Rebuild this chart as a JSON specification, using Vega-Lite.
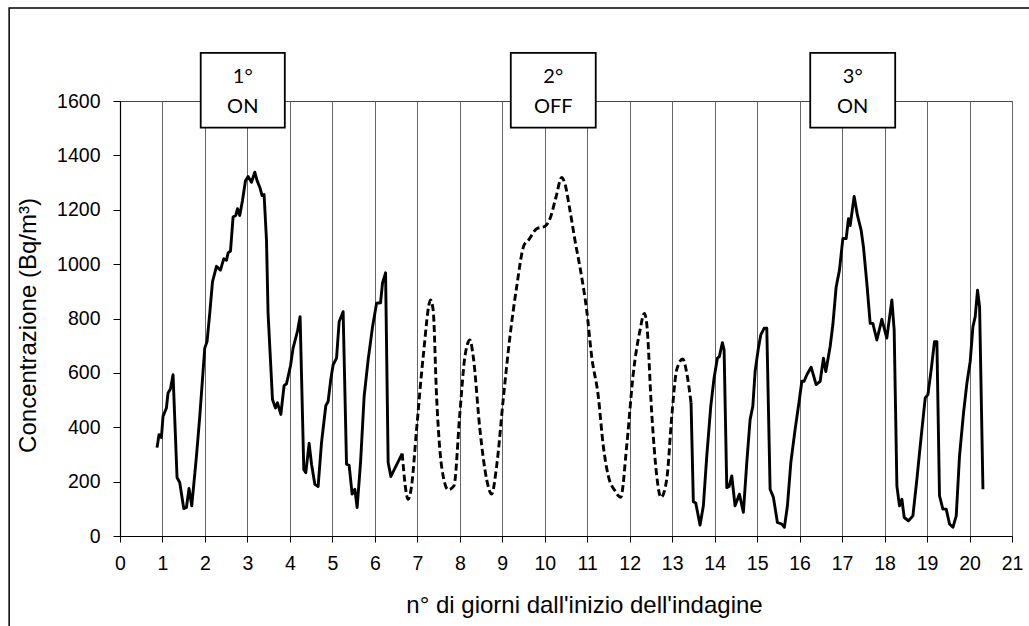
{
  "$schema": "https://vega.github.io/schema/vega-lite/v6.json",
  "width": 892,
  "height": 435,
  "autosize": {"type": "none"},
  "padding": {"left": 120, "top": 101, "right": 17, "bottom": 90},
  "background": "white",
  "config": {
    "font": "Liberation Sans",
    "view": {"stroke": "#444", "strokeWidth": 1},
    "axis": {
      "domainColor": "black",
      "domainWidth": 1.2,
      "tickColor": "black",
      "labelColor": "black",
      "labelFont": "Liberation Sans",
      "labelFontSize": 19.5,
      "titleFont": "Liberation Sans",
      "titleFontSize": 24,
      "titleFontWeight": "normal",
      "titleColor": "black"
    },
    "axisX": {
      "grid": true,
      "gridColor": "#666",
      "gridWidth": 1,
      "tickSize": 6,
      "labelPadding": 12,
      "labelFlush": false,
      "titleX": 464,
      "titleY": 69,
      "titleBaseline": "middle"
    },
    "axisY": {
      "grid": false,
      "tickSize": 7,
      "labelPadding": 13,
      "titleX": -92,
      "titleY": 224,
      "titleAngle": -90,
      "titleBaseline": "middle"
    }
  },
  "datasets": {
    "serie": [
      {"x": 0.872, "y": 325, "seg": "A", "fase": "ON"},
      {"x": 0.919, "y": 373, "seg": "A", "fase": "ON"},
      {"x": 0.975, "y": 362, "seg": "A", "fase": "ON"},
      {"x": 1.013, "y": 440, "seg": "A", "fase": "ON"},
      {"x": 1.093, "y": 471, "seg": "A", "fase": "ON"},
      {"x": 1.131, "y": 526, "seg": "A", "fase": "ON"},
      {"x": 1.187, "y": 541, "seg": "A", "fase": "ON"},
      {"x": 1.249, "y": 593, "seg": "A", "fase": "ON"},
      {"x": 1.343, "y": 215, "seg": "A", "fase": "ON"},
      {"x": 1.406, "y": 197, "seg": "A", "fase": "ON"},
      {"x": 1.501, "y": 101, "seg": "A", "fase": "ON"},
      {"x": 1.564, "y": 105, "seg": "A", "fase": "ON"},
      {"x": 1.625, "y": 175, "seg": "A", "fase": "ON"},
      {"x": 1.689, "y": 111, "seg": "A", "fase": "ON"},
      {"x": 1.800, "y": 294, "seg": "A", "fase": "ON"},
      {"x": 1.878, "y": 440, "seg": "A", "fase": "ON"},
      {"x": 1.995, "y": 691, "seg": "A", "fase": "ON"},
      {"x": 2.049, "y": 715, "seg": "A", "fase": "ON"},
      {"x": 2.113, "y": 819, "seg": "A", "fase": "ON"},
      {"x": 2.177, "y": 935, "seg": "A", "fase": "ON"},
      {"x": 2.271, "y": 992, "seg": "A", "fase": "ON"},
      {"x": 2.365, "y": 978, "seg": "A", "fase": "ON"},
      {"x": 2.443, "y": 1020, "seg": "A", "fase": "ON"},
      {"x": 2.506, "y": 1014, "seg": "A", "fase": "ON"},
      {"x": 2.544, "y": 1041, "seg": "A", "fase": "ON"},
      {"x": 2.601, "y": 1048, "seg": "A", "fase": "ON"},
      {"x": 2.662, "y": 1173, "seg": "A", "fase": "ON"},
      {"x": 2.726, "y": 1179, "seg": "A", "fase": "ON"},
      {"x": 2.766, "y": 1204, "seg": "A", "fase": "ON"},
      {"x": 2.820, "y": 1179, "seg": "A", "fase": "ON"},
      {"x": 2.883, "y": 1234, "seg": "A", "fase": "ON"},
      {"x": 2.954, "y": 1307, "seg": "A", "fase": "ON"},
      {"x": 3.015, "y": 1322, "seg": "A", "fase": "ON"},
      {"x": 3.095, "y": 1301, "seg": "A", "fase": "ON"},
      {"x": 3.173, "y": 1338, "seg": "A", "fase": "ON"},
      {"x": 3.227, "y": 1307, "seg": "A", "fase": "ON"},
      {"x": 3.291, "y": 1283, "seg": "A", "fase": "ON"},
      {"x": 3.345, "y": 1252, "seg": "A", "fase": "ON"},
      {"x": 3.392, "y": 1256, "seg": "A", "fase": "ON"},
      {"x": 3.449, "y": 1087, "seg": "A", "fase": "ON"},
      {"x": 3.486, "y": 819, "seg": "A", "fase": "ON"},
      {"x": 3.590, "y": 502, "seg": "A", "fase": "ON"},
      {"x": 3.661, "y": 471, "seg": "A", "fase": "ON"},
      {"x": 3.708, "y": 490, "seg": "A", "fase": "ON"},
      {"x": 3.786, "y": 447, "seg": "A", "fase": "ON"},
      {"x": 3.863, "y": 553, "seg": "A", "fase": "ON"},
      {"x": 3.920, "y": 560, "seg": "A", "fase": "ON"},
      {"x": 4.014, "y": 626, "seg": "A", "fase": "ON"},
      {"x": 4.075, "y": 691, "seg": "A", "fase": "ON"},
      {"x": 4.179, "y": 754, "seg": "A", "fase": "ON"},
      {"x": 4.240, "y": 807, "seg": "A", "fase": "ON"},
      {"x": 4.327, "y": 245, "seg": "A", "fase": "ON"},
      {"x": 4.375, "y": 233, "seg": "A", "fase": "ON"},
      {"x": 4.452, "y": 341, "seg": "A", "fase": "ON"},
      {"x": 4.509, "y": 264, "seg": "A", "fase": "ON"},
      {"x": 4.587, "y": 190, "seg": "A", "fase": "ON"},
      {"x": 4.664, "y": 182, "seg": "A", "fase": "ON"},
      {"x": 4.744, "y": 343, "seg": "A", "fase": "ON"},
      {"x": 4.846, "y": 480, "seg": "A", "fase": "ON"},
      {"x": 4.900, "y": 495, "seg": "A", "fase": "ON"},
      {"x": 4.963, "y": 577, "seg": "A", "fase": "ON"},
      {"x": 5.018, "y": 630, "seg": "A", "fase": "ON"},
      {"x": 5.098, "y": 654, "seg": "A", "fase": "ON"},
      {"x": 5.159, "y": 788, "seg": "A", "fase": "ON"},
      {"x": 5.253, "y": 825, "seg": "A", "fase": "ON"},
      {"x": 5.333, "y": 264, "seg": "A", "fase": "ON"},
      {"x": 5.395, "y": 260, "seg": "A", "fase": "ON"},
      {"x": 5.465, "y": 154, "seg": "A", "fase": "ON"},
      {"x": 5.529, "y": 172, "seg": "A", "fase": "ON"},
      {"x": 5.583, "y": 105, "seg": "A", "fase": "ON"},
      {"x": 5.663, "y": 270, "seg": "A", "fase": "ON"},
      {"x": 5.748, "y": 514, "seg": "A", "fase": "ON"},
      {"x": 5.842, "y": 648, "seg": "A", "fase": "ON"},
      {"x": 5.946, "y": 770, "seg": "A", "fase": "ON"},
      {"x": 6.040, "y": 856, "seg": "A", "fase": "ON"},
      {"x": 6.134, "y": 858, "seg": "A", "fase": "ON"},
      {"x": 6.181, "y": 931, "seg": "A", "fase": "ON"},
      {"x": 6.252, "y": 968, "seg": "A", "fase": "ON"},
      {"x": 6.313, "y": 270, "seg": "A", "fase": "ON"},
      {"x": 6.377, "y": 219, "seg": "A", "fase": "ON"},
      {"x": 6.643, "y": 303, "seg": "A", "fase": "ON"},
      {"x": 6.643, "y": 303, "seg": "B", "fase": "OFF"},
      {"x": 6.784, "y": 135, "seg": "B", "fase": "OFF"},
      {"x": 6.864, "y": 184, "seg": "B", "fase": "OFF"},
      {"x": 6.982, "y": 392, "seg": "B", "fase": "OFF"},
      {"x": 7.138, "y": 660, "seg": "B", "fase": "OFF"},
      {"x": 7.312, "y": 868, "seg": "B", "fase": "OFF"},
      {"x": 7.373, "y": 831, "seg": "B", "fase": "OFF"},
      {"x": 7.453, "y": 514, "seg": "B", "fase": "OFF"},
      {"x": 7.571, "y": 257, "seg": "B", "fase": "OFF"},
      {"x": 7.727, "y": 170, "seg": "B", "fase": "OFF"},
      {"x": 7.861, "y": 184, "seg": "B", "fase": "OFF"},
      {"x": 8.002, "y": 453, "seg": "B", "fase": "OFF"},
      {"x": 8.120, "y": 660, "seg": "B", "fase": "OFF"},
      {"x": 8.238, "y": 721, "seg": "B", "fase": "OFF"},
      {"x": 8.316, "y": 660, "seg": "B", "fase": "OFF"},
      {"x": 8.473, "y": 392, "seg": "B", "fase": "OFF"},
      {"x": 8.631, "y": 209, "seg": "B", "fase": "OFF"},
      {"x": 8.749, "y": 154, "seg": "B", "fase": "OFF"},
      {"x": 8.867, "y": 257, "seg": "B", "fase": "OFF"},
      {"x": 9.022, "y": 502, "seg": "B", "fase": "OFF"},
      {"x": 9.180, "y": 733, "seg": "B", "fase": "OFF"},
      {"x": 9.338, "y": 916, "seg": "B", "fase": "OFF"},
      {"x": 9.510, "y": 1069, "seg": "B", "fase": "OFF"},
      {"x": 9.611, "y": 1087, "seg": "B", "fase": "OFF"},
      {"x": 9.809, "y": 1130, "seg": "B", "fase": "OFF"},
      {"x": 10.005, "y": 1139, "seg": "B", "fase": "OFF"},
      {"x": 10.122, "y": 1167, "seg": "B", "fase": "OFF"},
      {"x": 10.264, "y": 1246, "seg": "B", "fase": "OFF"},
      {"x": 10.398, "y": 1319, "seg": "B", "fase": "OFF"},
      {"x": 10.476, "y": 1295, "seg": "B", "fase": "OFF"},
      {"x": 10.594, "y": 1197, "seg": "B", "fase": "OFF"},
      {"x": 10.712, "y": 1087, "seg": "B", "fase": "OFF"},
      {"x": 10.869, "y": 953, "seg": "B", "fase": "OFF"},
      {"x": 10.987, "y": 831, "seg": "B", "fase": "OFF"},
      {"x": 11.105, "y": 660, "seg": "B", "fase": "OFF"},
      {"x": 11.260, "y": 514, "seg": "B", "fase": "OFF"},
      {"x": 11.378, "y": 331, "seg": "B", "fase": "OFF"},
      {"x": 11.496, "y": 221, "seg": "B", "fase": "OFF"},
      {"x": 11.654, "y": 166, "seg": "B", "fase": "OFF"},
      {"x": 11.788, "y": 142, "seg": "B", "fase": "OFF"},
      {"x": 11.929, "y": 331, "seg": "B", "fase": "OFF"},
      {"x": 12.085, "y": 599, "seg": "B", "fase": "OFF"},
      {"x": 12.243, "y": 758, "seg": "B", "fase": "OFF"},
      {"x": 12.344, "y": 819, "seg": "B", "fase": "OFF"},
      {"x": 12.400, "y": 782, "seg": "B", "fase": "OFF"},
      {"x": 12.518, "y": 453, "seg": "B", "fase": "OFF"},
      {"x": 12.636, "y": 221, "seg": "B", "fase": "OFF"},
      {"x": 12.737, "y": 142, "seg": "B", "fase": "OFF"},
      {"x": 12.872, "y": 209, "seg": "B", "fase": "OFF"},
      {"x": 12.990, "y": 440, "seg": "B", "fase": "OFF"},
      {"x": 13.107, "y": 612, "seg": "B", "fase": "OFF"},
      {"x": 13.248, "y": 651, "seg": "B", "fase": "OFF"},
      {"x": 13.343, "y": 599, "seg": "B", "fase": "OFF"},
      {"x": 13.444, "y": 490, "seg": "B", "fase": "OFF"},
      {"x": 13.444, "y": 490, "seg": "C", "fase": "ON"},
      {"x": 13.498, "y": 126, "seg": "C", "fase": "ON"},
      {"x": 13.555, "y": 121, "seg": "C", "fase": "ON"},
      {"x": 13.656, "y": 40, "seg": "C", "fase": "ON"},
      {"x": 13.734, "y": 111, "seg": "C", "fase": "ON"},
      {"x": 13.814, "y": 294, "seg": "C", "fase": "ON"},
      {"x": 13.908, "y": 477, "seg": "C", "fase": "ON"},
      {"x": 13.986, "y": 581, "seg": "C", "fase": "ON"},
      {"x": 14.064, "y": 654, "seg": "C", "fase": "ON"},
      {"x": 14.111, "y": 660, "seg": "C", "fase": "ON"},
      {"x": 14.181, "y": 711, "seg": "C", "fase": "ON"},
      {"x": 14.222, "y": 685, "seg": "C", "fase": "ON"},
      {"x": 14.285, "y": 178, "seg": "C", "fase": "ON"},
      {"x": 14.339, "y": 182, "seg": "C", "fase": "ON"},
      {"x": 14.403, "y": 221, "seg": "C", "fase": "ON"},
      {"x": 14.480, "y": 111, "seg": "C", "fase": "ON"},
      {"x": 14.582, "y": 154, "seg": "C", "fase": "ON"},
      {"x": 14.676, "y": 87, "seg": "C", "fase": "ON"},
      {"x": 14.756, "y": 270, "seg": "C", "fase": "ON"},
      {"x": 14.834, "y": 428, "seg": "C", "fase": "ON"},
      {"x": 14.898, "y": 477, "seg": "C", "fase": "ON"},
      {"x": 14.952, "y": 605, "seg": "C", "fase": "ON"},
      {"x": 15.029, "y": 691, "seg": "C", "fase": "ON"},
      {"x": 15.086, "y": 740, "seg": "C", "fase": "ON"},
      {"x": 15.164, "y": 764, "seg": "C", "fase": "ON"},
      {"x": 15.227, "y": 764, "seg": "C", "fase": "ON"},
      {"x": 15.305, "y": 172, "seg": "C", "fase": "ON"},
      {"x": 15.383, "y": 142, "seg": "C", "fase": "ON"},
      {"x": 15.477, "y": 50, "seg": "C", "fase": "ON"},
      {"x": 15.581, "y": 44, "seg": "C", "fase": "ON"},
      {"x": 15.642, "y": 32, "seg": "C", "fase": "ON"},
      {"x": 15.713, "y": 111, "seg": "C", "fase": "ON"},
      {"x": 15.793, "y": 270, "seg": "C", "fase": "ON"},
      {"x": 15.894, "y": 392, "seg": "C", "fase": "ON"},
      {"x": 15.988, "y": 495, "seg": "C", "fase": "ON"},
      {"x": 16.052, "y": 569, "seg": "C", "fase": "ON"},
      {"x": 16.106, "y": 569, "seg": "C", "fase": "ON"},
      {"x": 16.170, "y": 593, "seg": "C", "fase": "ON"},
      {"x": 16.271, "y": 621, "seg": "C", "fase": "ON"},
      {"x": 16.389, "y": 557, "seg": "C", "fase": "ON"},
      {"x": 16.483, "y": 569, "seg": "C", "fase": "ON"},
      {"x": 16.561, "y": 654, "seg": "C", "fase": "ON"},
      {"x": 16.617, "y": 605, "seg": "C", "fase": "ON"},
      {"x": 16.719, "y": 697, "seg": "C", "fase": "ON"},
      {"x": 16.782, "y": 776, "seg": "C", "fase": "ON"},
      {"x": 16.860, "y": 916, "seg": "C", "fase": "ON"},
      {"x": 16.938, "y": 978, "seg": "C", "fase": "ON"},
      {"x": 17.018, "y": 1094, "seg": "C", "fase": "ON"},
      {"x": 17.096, "y": 1094, "seg": "C", "fase": "ON"},
      {"x": 17.150, "y": 1167, "seg": "C", "fase": "ON"},
      {"x": 17.190, "y": 1142, "seg": "C", "fase": "ON"},
      {"x": 17.284, "y": 1249, "seg": "C", "fase": "ON"},
      {"x": 17.362, "y": 1179, "seg": "C", "fase": "ON"},
      {"x": 17.449, "y": 1124, "seg": "C", "fase": "ON"},
      {"x": 17.503, "y": 1063, "seg": "C", "fase": "ON"},
      {"x": 17.583, "y": 929, "seg": "C", "fase": "ON"},
      {"x": 17.661, "y": 782, "seg": "C", "fase": "ON"},
      {"x": 17.724, "y": 782, "seg": "C", "fase": "ON"},
      {"x": 17.818, "y": 721, "seg": "C", "fase": "ON"},
      {"x": 17.936, "y": 797, "seg": "C", "fase": "ON"},
      {"x": 18.053, "y": 728, "seg": "C", "fase": "ON"},
      {"x": 18.172, "y": 868, "seg": "C", "fase": "ON"},
      {"x": 18.226, "y": 758, "seg": "C", "fase": "ON"},
      {"x": 18.290, "y": 184, "seg": "C", "fase": "ON"},
      {"x": 18.351, "y": 111, "seg": "C", "fase": "ON"},
      {"x": 18.408, "y": 135, "seg": "C", "fase": "ON"},
      {"x": 18.462, "y": 68, "seg": "C", "fase": "ON"},
      {"x": 18.563, "y": 56, "seg": "C", "fase": "ON"},
      {"x": 18.667, "y": 74, "seg": "C", "fase": "ON"},
      {"x": 18.761, "y": 209, "seg": "C", "fase": "ON"},
      {"x": 18.839, "y": 331, "seg": "C", "fase": "ON"},
      {"x": 18.957, "y": 508, "seg": "C", "fase": "ON"},
      {"x": 19.020, "y": 520, "seg": "C", "fase": "ON"},
      {"x": 19.098, "y": 612, "seg": "C", "fase": "ON"},
      {"x": 19.175, "y": 715, "seg": "C", "fase": "ON"},
      {"x": 19.232, "y": 715, "seg": "C", "fase": "ON"},
      {"x": 19.293, "y": 148, "seg": "C", "fase": "ON"},
      {"x": 19.373, "y": 99, "seg": "C", "fase": "ON"},
      {"x": 19.451, "y": 99, "seg": "C", "fase": "ON"},
      {"x": 19.529, "y": 44, "seg": "C", "fase": "ON"},
      {"x": 19.609, "y": 32, "seg": "C", "fase": "ON"},
      {"x": 19.687, "y": 74, "seg": "C", "fase": "ON"},
      {"x": 19.764, "y": 294, "seg": "C", "fase": "ON"},
      {"x": 19.859, "y": 453, "seg": "C", "fase": "ON"},
      {"x": 19.939, "y": 563, "seg": "C", "fase": "ON"},
      {"x": 20.016, "y": 642, "seg": "C", "fase": "ON"},
      {"x": 20.080, "y": 770, "seg": "C", "fase": "ON"},
      {"x": 20.134, "y": 807, "seg": "C", "fase": "ON"},
      {"x": 20.189, "y": 904, "seg": "C", "fase": "ON"},
      {"x": 20.237, "y": 843, "seg": "C", "fase": "ON"},
      {"x": 20.316, "y": 172, "seg": "C", "fase": "ON"}
    ],
    "fasi": [
      {"inizio": 1.9, "fine": 3.88, "centro": 2.89, "alto": 1777, "basso": 1502, "testo": "1°\nON"},
      {"inizio": 9.2, "fine": 11.2, "centro": 10.2, "alto": 1777, "basso": 1502, "testo": "2°\nOFF"},
      {"inizio": 16.25, "fine": 18.25, "centro": 17.25, "alto": 1777, "basso": 1502, "testo": "3°\nON"}
    ]
  },
  "layer": [
    {
      "data": {"name": "serie"},
      "transform": [{"filter": "datum.fase === 'ON'"}],
      "mark": {"type": "line", "color": "black", "strokeWidth": 2.9, "strokeJoin": "round"},
      "encoding": {
        "x": {
          "field": "x", "type": "quantitative",
          "scale": {"domain": [0, 21], "nice": false, "zero": true},
          "axis": {"values": [0,1,2,3,4,5,6,7,8,9,10,11,12,13,14,15,16,17,18,19,20,21], "format": "d"},
          "title": "n° di giorni dall'inizio dell'indagine"
        },
        "y": {
          "field": "y", "type": "quantitative",
          "scale": {"domain": [0, 1600], "nice": false},
          "axis": {"values": [0,200,400,600,800,1000,1200,1400,1600], "format": "d"},
          "title": "Concentrazione (Bq/m³)"
        },
        "detail": {"field": "seg"}
      }
    },
    {
      "data": {"name": "serie"},
      "transform": [{"filter": "datum.fase === 'OFF'"}],
      "mark": {"type": "line", "color": "black", "strokeWidth": 2.9, "strokeDash": [7, 3.5], "interpolate": "monotone"},
      "encoding": {
        "x": {"field": "x", "type": "quantitative", "title": "n° di giorni dall'inizio dell'indagine"},
        "y": {"field": "y", "type": "quantitative", "title": "Concentrazione (Bq/m³)"}
      }
    },
    {
      "data": {"name": "fasi"},
      "mark": {"type": "rect", "fill": "white", "stroke": "black", "strokeWidth": 1.8},
      "encoding": {
        "x": {"field": "inizio", "type": "quantitative", "title": "n° di giorni dall'inizio dell'indagine"},
        "x2": {"field": "fine"},
        "y": {"field": "alto", "type": "quantitative", "title": "Concentrazione (Bq/m³)"},
        "y2": {"field": "basso"}
      }
    },
    {
      "data": {"name": "fasi"},
      "mark": {"type": "text", "font": "Lato", "fontSize": 20, "color": "black", "lineBreak": "\n", "lineHeight": 29.5, "baseline": "middle", "align": "center"},
      "encoding": {
        "x": {"field": "centro", "type": "quantitative", "title": "n° di giorni dall'inizio dell'indagine"},
        "y": {"datum": 1688, "type": "quantitative"},
        "text": {"field": "testo"}
      }
    },
    {
      "data": {"values": [{}]},
      "mark": {"type": "rect", "fill": null, "fillOpacity": 0, "stroke": "black", "strokeWidth": 1.5},
      "encoding": {
        "x": {"datum": -2.61, "type": "quantitative"},
        "x2": {"datum": 26},
        "y": {"datum": 1942, "type": "quantitative"},
        "y2": {"datum": -500}
      }
    }
  ]
}
